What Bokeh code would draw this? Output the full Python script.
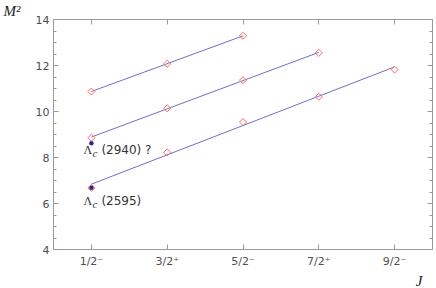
from bokeh.plotting import figure
from bokeh.models import FixedTicker, LinearAxis, Title, Range1d
from bokeh.core.properties import value
from bokeh.embed import file_html
from bokeh.resources import INLINE

# ---- data ----
j_ticks = [0.5, 1.5, 2.5, 3.5, 4.5]
j_labels = ["1/2\u207b", "3/2\u207a", "5/2\u207b", "7/2\u207a", "9/2\u207b"]
y_ticks = [4, 6, 8, 10, 12, 14]
y_minor = [4.5, 5, 5.5, 6.5, 7, 7.5, 8.5, 9, 9.5, 10.5, 11, 11.5, 12.5, 13, 13.5]

top_j = [0.5, 1.5, 2.5]
top_m2 = [10.87, 12.08, 13.29]
mid_j = [0.5, 1.5, 2.5, 3.5]
mid_m2 = [8.86, 10.14, 11.36, 12.55]
bot_j = [0.5, 1.5, 2.5, 3.5, 4.5]
bot_m2 = [6.68, 8.22, 9.54, 10.64, 11.82]

fit_top = [10.87, 13.29]
fit_mid = [8.89, 12.57]
fit_bot = [6.84, 11.94]

obs_j = [0.5, 0.5]
obs_m2 = [6.68, 8.62]
obs_mass = ["(2595)", "(2940) ?"]
obs_label_m2 = [6.1, 8.34]

x_min, x_max = 0, 5
y_min, y_max = 4, 14

# ---- styles ----
line_col = "#6e6ecc"
diam_col = "#ff6a6a"
dot_col = "#2b2b8c"
frame_col = "#9a9a9a"
tick_txt = "#505050"

p = figure(width=436, height=288, output_backend="svg", toolbar_location=None,
           x_range=Range1d(x_min, x_max), y_range=Range1d(y_min, y_max),
           min_border_left=53, min_border_top=19, min_border_bottom=34,
           min_border_right=4, x_axis_location=None, y_axis_location=None)
p.grid.visible = False
p.outline_line_color = frame_col
p.background_fill_color = "white"
p.border_fill_color = "white"

def style_axis(ax, labels=True):
    ax.axis_line_color = frame_col
    ax.major_tick_line_color = frame_col
    ax.minor_tick_line_color = frame_col
    ax.major_tick_in = 5
    ax.major_tick_out = 0
    ax.minor_tick_in = 3
    ax.minor_tick_out = 0
    if labels:
        ax.major_label_text_font = "DejaVu Sans"
        ax.major_label_text_font_size = "11px"
        ax.major_label_text_color = tick_txt
        ax.major_label_standoff = 5
    else:
        ax.major_label_text_color = None
        ax.major_label_text_font_size = "1px"
        ax.major_label_standoff = 0

xb = LinearAxis(ticker=FixedTicker(ticks=j_ticks, minor_ticks=[]))
xb.major_label_overrides = {t: l for t, l in zip(j_ticks, j_labels)}
style_axis(xb)
xb.major_label_standoff = 5
p.add_layout(xb, "below")

xt = LinearAxis(ticker=FixedTicker(ticks=j_ticks, minor_ticks=[]))
style_axis(xt, labels=False)
p.add_layout(xt, "above")

yl = LinearAxis(ticker=FixedTicker(ticks=y_ticks, minor_ticks=y_minor))
style_axis(yl)
yl.major_label_standoff = 4
p.add_layout(yl, "left")

yr = LinearAxis(ticker=FixedTicker(ticks=y_ticks, minor_ticks=y_minor))
style_axis(yr, labels=False)
p.add_layout(yr, "right")

# axis titles placed at the frame corners
p.add_layout(Title(text="M\u00b2", align="left", offset=-50, standoff=1,
                   text_font="Liberation Serif", text_font_style="italic",
                   text_font_size="15px", text_color="#222222"), "above")
p.add_layout(Title(text="J", align="right", offset=10, standoff=0,
                   text_font="Liberation Serif", text_font_style="italic",
                   text_font_size="15px", text_line_height=0.6,
                   text_color="#222222"), "below")

# fit lines
for js, fit in ((top_j, fit_top), (mid_j, fit_mid), (bot_j, fit_bot)):
    p.line([js[0], js[-1]], fit, line_color=line_col, line_width=1)

# model points
for js, ms in ((top_j, top_m2), (mid_j, mid_m2), (bot_j, bot_m2)):
    p.scatter(js, ms, marker="square", angle=0.785398, size=5,
              fill_color=None, line_color=diam_col, line_width=1)

# observed
p.scatter(obs_j, obs_m2, marker="circle", size=4.5, fill_color=dot_col, line_color=None)

# annotations
lam_off = [-8, -8]
sub_off = [1, 1]
num_off = [10, 10]
p.text(obs_j, obs_label_m2, text=["\u039b", "\u039b"], x_offset=lam_off,
       text_font=value("Liberation Serif"), text_font_size="12px", text_color="#333333",
       text_baseline="middle", text_align="left")
p.text(obs_j, obs_label_m2, text=["c", "c"], x_offset=sub_off, y_offset=3,
       text_font=value("Liberation Serif"), text_font_style="italic", text_font_size="11px",
       text_color="#333333", text_baseline="middle", text_align="left")
p.text(obs_j, obs_label_m2, text=obs_mass, x_offset=num_off,
       text_font=value("DejaVu Sans"), text_font_size="12px", text_color="#333333",
       text_baseline="middle", text_align="left")

open("out.html", "w").write(file_html(p, INLINE))
